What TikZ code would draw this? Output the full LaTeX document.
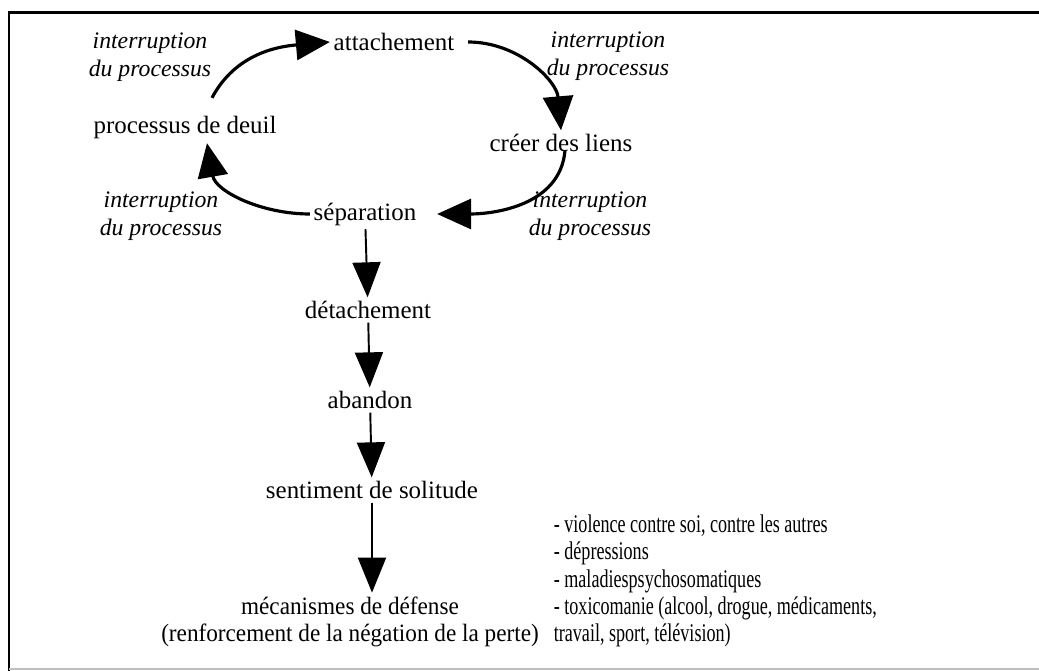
\documentclass[tikz,border=0pt]{standalone}
\usepackage{fontspec}
\setmainfont{Liberation Serif}
\newfontfamily\narrowfont[FakeStretch=0.93]{Liberation Serif}
\newfontfamily\listfont[FakeStretch=0.71]{Liberation Serif}
\usetikzlibrary{arrows.meta}

\begin{document}
\begin{tikzpicture}[x=0.02cm,y=-0.02cm]
 \tikzset{stage/.style={font=\fontsize{14.2}{17}\selectfont, inner sep=2pt},
          remark/.style={font=\fontsize{13.5}{15.9}\selectfont\itshape, align=center},
          ringarrow/.style={line width=1.8pt, -{Triangle[width=0.6cm,length=0.68cm]}},
          fallarrow/.style={line width=1.1pt, -{Triangle[width=0.56cm,length=0.7cm]}}}
  \useasboundingbox (0,0) rectangle (1039,671);
  % frame
  \draw[line width=1.7pt] (9,671) -- (9,13) -- (1039,13);
  \draw[line width=1.2pt, black!25] (9,669) -- (1039,669);

  \node[stage] (attach) at (394,42) {attachement};
  \node[stage] (deuil) at (185,128) {processus de deuil};
  \node[stage] (creer) at (561,143) {créer des liens};
  \node[stage] (sep) at (365,214) {séparation};
  \node[stage] (detach) at (368,310) {détachement};
  \node[stage] (aband) at (370,400) {abandon};
  \node[stage] (solit) at (372,490) {sentiment de solitude};
  % base = last line of a multi-line node
  \node[stage, font=\narrowfont\fontsize{14.2}{15.9}\selectfont, align=center, anchor=base] (defense) at (350,642)
       {mécanismes de défense\\(renforcement de la négation de la perte)};
  \node[stage, font=\listfont\fontsize{14.5}{15.6}\selectfont, align=left, anchor=base west] (effets) at (550,642)
       {- violence contre soi, contre les autres\\- dépressions\\- maladiespsychosomatiques\\- toxicomanie (alcool, drogue, médicaments,\\travail, sport, télévision)};

  \node[remark] (stopA) at (150,57) {interruption\\du processus};
  \node[remark] (stopB) at (608,56) {interruption\\du processus};
  \node[remark] (stopC) at (590,216) {interruption\\du processus};
  \node[remark] (stopD) at (161,216) {interruption\\du processus};

  % the cycle
  \draw[ringarrow] ([xshift=0.54cm,yshift=0.3cm]deuil.north) to[out=62,in=185] (attach.west);
  \draw[ringarrow] ([xshift=0.2cm]attach.east) to[out=0,in=95] (creer.north);
  \draw[ringarrow] ([xshift=0.08cm,yshift=0.1cm]creer.south) to[out=-95,in=0] ([xshift=0.34cm]sep.east);
  \draw[ringarrow] (sep.west) to[out=180,in=-80] ([xshift=0.44cm]deuil.south);

  % way out of the cycle
  \draw[fallarrow] (sep) -- (detach);
  \draw[fallarrow] (detach) -- (aband);
  \draw[fallarrow] (aband) -- (solit);
  \draw[fallarrow] (solit) -- (solit |- defense.north);
\end{tikzpicture}
\end{document}
